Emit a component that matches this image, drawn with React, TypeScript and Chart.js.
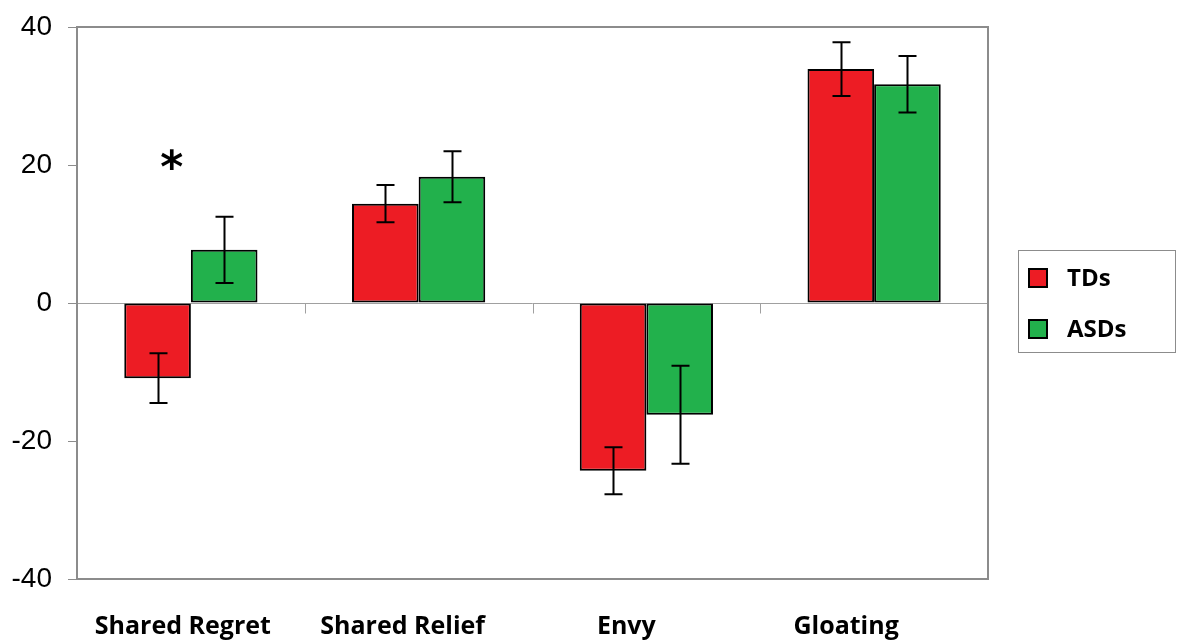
import React, { useEffect, useRef } from "react";
import { Chart, registerables } from "chart.js";

Chart.register(...registerables);

const categories = ["Shared Regret", "Shared Relief", "Envy", "Gloating"];
const seriesNames = ["TDs", "ASDs"];
const tdMeans = [-10.9, 14.4, -24.3, 33.9];
const tdErrors = [3.6, 2.7, 3.4, 3.9];
const asdMeans = [7.7, 18.3, -16.2, 31.7];
const asdErrors = [4.8, 3.7, 7.1, 4.1];
const yTicks = [-40, -20, 0, 20, 40];
const significanceIndex = [0];
const significanceValue = [20.8];
const significanceText = ["*"];

const RED = "#ED1C24";
const GREEN = "#22B14C";
const GRAY = "#8c8c8c";
const LABEL_SHIFT = [-8, -16, -20, -28];

const errorBarPlugin = {
  id: "errorBars",
  afterDatasetsDraw(chart: any) {
    const ctx = chart.ctx;
    const y = chart.scales.y;
    const errs = [tdErrors, asdErrors];
    const means = [tdMeans, asdMeans];
    ctx.save();
    ctx.strokeStyle = "#000";
    ctx.lineWidth = 2;
    for (let d = 0; d < 2; d++) {
      const meta = chart.getDatasetMeta(d);
      meta.data.forEach((bar: any, i: number) => {
        const x = Math.round(bar.x) + 0.5;
        const yHi = y.getPixelForValue(means[d][i] + errs[d][i]);
        const yLo = y.getPixelForValue(means[d][i] - errs[d][i]);
        ctx.beginPath();
        ctx.moveTo(x, yHi);
        ctx.lineTo(x, yLo);
        ctx.moveTo(x - 9, yHi);
        ctx.lineTo(x + 9, yHi);
        ctx.moveTo(x - 9, yLo);
        ctx.lineTo(x + 9, yLo);
        ctx.stroke();
      });
    }
    ctx.restore();
  },
};

const framePlugin = {
  id: "frame",
  beforeDatasetsDraw(chart: any) {
    const ctx = chart.ctx;
    const x = chart.scales.x;
    const y = chart.scales.y;
    const y0 = Math.round(y.getPixelForValue(0)) + 0.5;
    ctx.save();
    ctx.strokeStyle = "#a0a0a0";
    ctx.lineWidth = 1;
    for (let i = 0; i < categories.length - 1; i++) {
      const bx = Math.round((x.getPixelForValue(i) + x.getPixelForValue(i + 1)) / 2) + 0.5;
      ctx.beginPath();
      ctx.moveTo(bx, y0);
      ctx.lineTo(bx, y0 + 10);
      ctx.stroke();
    }
    ctx.restore();
  },
  afterDraw(chart: any) {
    const ctx = chart.ctx;
    const { left, right, top, bottom } = chart.chartArea;
    ctx.save();
    ctx.strokeStyle = GRAY;
    ctx.lineWidth = 2;
    ctx.strokeRect(left, top, right - left, bottom - top);

    const x = chart.scales.x;
    const y = chart.scales.y;

    // category labels
    ctx.fillStyle = "#000";
    ctx.font = "bold 25px 'Open Sans'";
    ctx.textAlign = "center";
    ctx.textBaseline = "middle";
    categories.forEach((c, i) => {
      ctx.fillText(c, x.getPixelForValue(i) + LABEL_SHIFT[i], bottom + 48);
    });

    // significance marks
    ctx.font = "bold 44px 'DejaVu Sans'";
    ctx.textBaseline = "alphabetic";
    significanceIndex.forEach((idx, k) => {
      const m = ctx.measureText(significanceText[k]);
      const cx = x.getPixelForValue(idx) - 19;
      const cy = y.getPixelForValue(significanceValue[k]);
      const off = (m.actualBoundingBoxAscent - m.actualBoundingBoxDescent) / 2;
      ctx.fillText(significanceText[k], cx, cy + off);
    });

    // legend
    const lx = right + 30;
    const ly = 250;
    const lw = 157;
    const lh = 102;
    ctx.strokeStyle = GRAY;
    ctx.lineWidth = 1;
    ctx.strokeRect(lx + 0.5, ly + 0.5, lw, lh);
    const colors = [RED, GREEN];
    const rows = [278, 329];
    ctx.font = "bold 24px 'Open Sans'";
    ctx.textAlign = "left";
    ctx.textBaseline = "middle";
    seriesNames.forEach((name, i) => {
      ctx.fillStyle = colors[i];
      ctx.fillRect(lx + 11, rows[i] - 9, 18, 18);
      ctx.strokeStyle = "#000";
      ctx.lineWidth = 2;
      ctx.strokeRect(lx + 11, rows[i] - 9, 18, 18);
      ctx.fillStyle = "#000";
      ctx.fillText(name, lx + 49, rows[i] + 1);
    });
    ctx.restore();
  },
};

export default function App() {
  const ref = useRef<HTMLCanvasElement>(null);
  useEffect(() => {
    document.body.style.margin = "0";
    const chart = new Chart(ref.current as HTMLCanvasElement, {
      type: "bar",
      data: {
        labels: categories,
        datasets: [
          {
            label: seriesNames[0],
            data: tdMeans,
            backgroundColor: RED,
            borderColor: "#000",
            borderWidth: 2,
            borderSkipped: false,
            categoryPercentage: 0.585,
            barPercentage: 1,
          },
          {
            label: seriesNames[1],
            data: asdMeans,
            backgroundColor: GREEN,
            borderColor: "#000",
            borderWidth: 2,
            borderSkipped: false,
            categoryPercentage: 0.585,
            barPercentage: 1,
          },
        ],
      },
      options: {
        responsive: false,
        animation: false,
        layout: { padding: { left: 0, right: 190, top: 27, bottom: 0 } },
        plugins: {
          legend: { display: false },
          tooltip: { enabled: false },
        },
        scales: {
          x: {
            grid: { display: false, drawTicks: false },
            border: { display: false },
            ticks: { display: false },
            afterFit: (s: any) => {
              s.height = 62;
            },
          },
          y: {
            min: -40,
            max: 40,
            afterBuildTicks: (s: any) => {
              s.ticks = yTicks.map((v) => ({ value: v }));
            },
            grid: {
              color: (c: any) => (c.tick && c.tick.value === 0 ? "#a0a0a0" : "rgba(0,0,0,0)"),
              tickColor: GRAY,
              tickLength: 9,
              lineWidth: 1,
            },
            border: { display: false },
            ticks: {
              color: "#000",
              padding: 16,
              font: { family: "'Liberation Sans', Arial", size: 28 },
            },
            afterFit: (s: any) => {
              s.width = 77;
              s.paddingTop = 0;
              s.paddingBottom = 0;
            },
          },
        },
      },
      plugins: [framePlugin, errorBarPlugin],
    });
    return () => chart.destroy();
  }, []);
  return <canvas ref={ref} width={1178} height={641} />;
}
